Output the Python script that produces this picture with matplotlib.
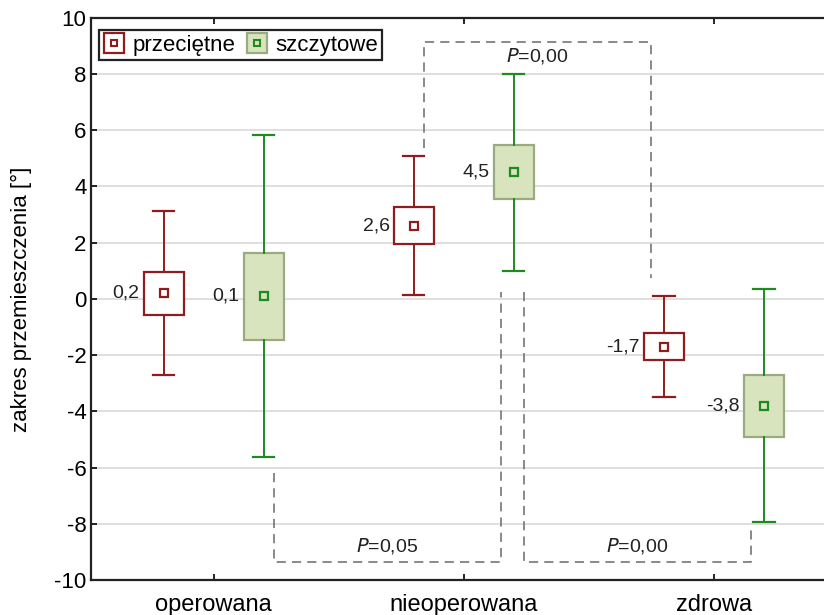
import matplotlib
matplotlib.use("Agg")
import matplotlib.pyplot as plt
from matplotlib.lines import Line2D
from matplotlib.legend_handler import HandlerTuple

plt.rcParams['font.family'] = ['Liberation Sans', 'DejaVu Sans']

categories = ['operowana', 'nieoperowana', 'zdrowa']
series_names = ['przeciętne', 'szczytowe']

# mean, box half-height and whisker half-length per category
mean_avg = [0.2, 2.6, -1.7]
box_avg = [0.77, 0.66, 0.48]
whisk_avg = [2.92, 2.47, 1.8]

mean_peak = [0.1, 4.5, -3.8]
box_peak = [1.55, 0.96, 1.1]
whisk_peak = [5.72, 3.5, 4.15]

value_labels_avg = ['0,2', '2,6', '-1,7']
value_labels_peak = ['0,1', '4,5', '-3,8']

# significance brackets: (left category, left series, right category, right series,
#                         bracket level, left leg end, right leg end, label)
brackets = [
    (0, 1, 1, 1, -9.35, -6.2, 0.25, '0,05'),
    (1, 0, 2, 0, 9.15, 5.37, 0.75, '0,00'),
    (1, 1, 2, 1, -9.35, 0.25, -8.1, '0,00'),
]

red = '#8f1d1d'
green = '#1f8a1f'
fill_green = '#d7e4bd'
edge_green = '#9aab82'

offset = 0.2
width = 0.16

fig = plt.figure(figsize=(8.24, 6.15), dpi=100)
ax = fig.add_axes([0.110, 0.057, 0.89, 0.914])


def stats(means, boxes, whisks):
    out = []
    for m, b, w in zip(means, boxes, whisks):
        out.append(dict(med=m, mean=m, q1=m - b, q3=m + b,
                        whislo=m - w, whishi=m + w, fliers=[]))
    return out


pos_avg = [i - offset for i in range(len(categories))]
pos_peak = [i + offset for i in range(len(categories))]

ax.bxp(stats(mean_avg, box_avg, whisk_avg), positions=pos_avg, widths=width,
       capwidths=0.085, patch_artist=True, showmeans=True, showfliers=False,
       boxprops=dict(facecolor='white', edgecolor=red, linewidth=1.6),
       whiskerprops=dict(color=red, linewidth=1.4),
       capprops=dict(color=red, linewidth=1.6),
       medianprops=dict(linewidth=0),
       meanprops=dict(marker='s', markersize=6, markerfacecolor='white',
                      markeredgecolor=red, markeredgewidth=1.6),
       manage_ticks=False, zorder=3)

ax.bxp(stats(mean_peak, box_peak, whisk_peak), positions=pos_peak, widths=width,
       capwidths=0.085, patch_artist=True, showmeans=True, showfliers=False,
       boxprops=dict(facecolor=fill_green, edgecolor=edge_green, linewidth=1.6),
       whiskerprops=dict(color=green, linewidth=1.4),
       capprops=dict(color=green, linewidth=1.6),
       medianprops=dict(linewidth=0),
       meanprops=dict(marker='s', markersize=6, markerfacecolor=fill_green,
                      markeredgecolor=green, markeredgewidth=1.6),
       manage_ticks=False, zorder=3)

for p, m, lab in zip(pos_avg, mean_avg, value_labels_avg):
    ax.annotate(lab, (p - width / 2, m), xytext=(-3, 0), textcoords='offset points',
                ha='right', va='center', fontsize=14, color='#222222')
for p, m, lab in zip(pos_peak, mean_peak, value_labels_peak):
    ax.annotate(lab, (p - width / 2, m), xytext=(-3, 0), textcoords='offset points',
                ha='right', va='center', fontsize=14, color='#222222')

# dashed significance brackets
series_pos = [pos_avg, pos_peak]
for c1, s1, c2, s2, level, leg1, leg2, ptxt in brackets:
    x1 = series_pos[s1][c1] + 0.042
    x2 = series_pos[s2][c2] - 0.052
    ax.plot([x1, x1, x2, x2], [leg1, level, level, leg2], color='#6a6a6a',
            linewidth=1.1, linestyle=(0, (6, 4)), zorder=2)
    ty = level + 0.57 if level < 0 else level - 0.5
    ax.text((x1 + x2) / 2, ty, r'$\it{P}$' + '=' + ptxt, ha='center', va='center',
            fontsize=14, color='#222222')

ax.set_xlim(-0.492, 2.44)
ax.set_ylim(-10, 10)
ax.set_yticks(range(-10, 11, 2))
ax.set_yticklabels([str(v) for v in range(-10, 11, 2)])
ax.set_xticks(range(len(categories)))
ax.set_xticklabels(categories, fontsize=17)
ax.tick_params(axis='y', labelsize=16, direction='in', length=4, width=1.2, pad=3)
ax.tick_params(axis='x', direction='in', length=4, width=1.2, top=True, pad=10)
ax.set_ylabel('zakres przemieszczenia [°]', fontsize=16, labelpad=16)

ax.grid(axis='y', color='#d9d9d9', linewidth=1.2, zorder=0)
ax.set_axisbelow(True)
for side in ['left', 'bottom', 'top']:
    ax.spines[side].set_linewidth(1.6)
    ax.spines[side].set_color('#222222')
ax.spines['right'].set_visible(False)

h_avg = (Line2D([], [], marker='s', markersize=15, markerfacecolor='white',
                markeredgecolor=red, markeredgewidth=1.6, linestyle='none'),
         Line2D([], [], marker='s', markersize=5, markerfacecolor='white',
                markeredgecolor=red, markeredgewidth=1.5, linestyle='none'))
h_peak = (Line2D([], [], marker='s', markersize=15, markerfacecolor=fill_green,
                 markeredgecolor=edge_green, markeredgewidth=1.6, linestyle='none'),
          Line2D([], [], marker='s', markersize=5, markerfacecolor=fill_green,
                 markeredgecolor=green, markeredgewidth=1.5, linestyle='none'))
leg = ax.legend([h_avg, h_peak], series_names, ncol=2, loc='upper left',
                bbox_to_anchor=(0.002, 0.99), fontsize=16, frameon=True,
                fancybox=False, framealpha=1, edgecolor='#222222',
                handler_map={tuple: HandlerTuple(ndivide=1)},
                handlelength=1.0, handletextpad=0.3, columnspacing=0.5,
                borderpad=0.2, borderaxespad=0.3)
leg.get_frame().set_linewidth(1.6)

fig.savefig('out.png', dpi=100)
